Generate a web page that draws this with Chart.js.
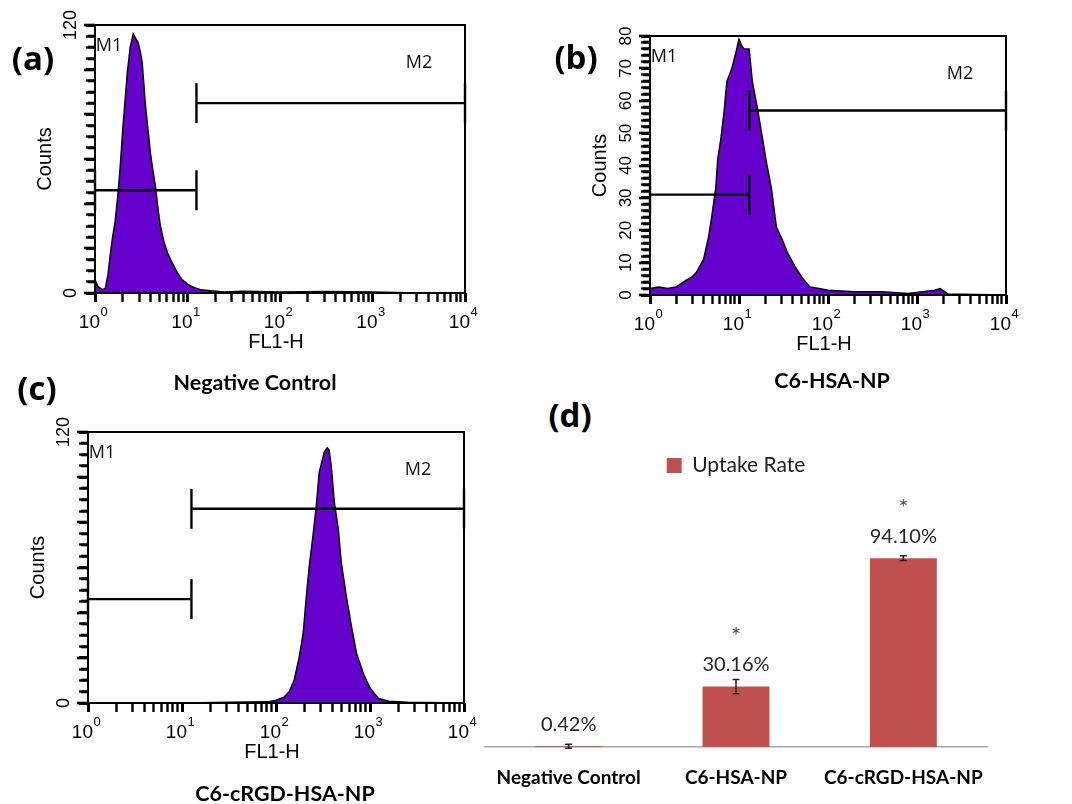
<!DOCTYPE html>
<html>
<head>
<meta charset="utf-8">
<title>Cellular uptake</title>
<script src="https://cdn.jsdelivr.net/npm/chart.js@4.4.1/dist/chart.umd.min.js"></script>
<style>
    html, body { margin: 0; padding: 0; background: #fff; }
    #page { position: relative; width: 1072px; height: 804px; overflow: hidden; }
    canvas { position: absolute; }
    .lbl {
        position: absolute;
        transform: translate(-50%, -50%);
        font-family: Lato, "Open Sans", sans-serif;
        font-weight: bold;
        color: #000;
        white-space: nowrap;
    }
    .tag { font-family: "Open Sans", sans-serif; font-size: 33px; }
    .sub { font-size: 21.5px; }
</style>
</head>
<body>
<div id="page">
    <canvas id="histNeg" width="480" height="370" style="left:0;top:0"></canvas>
    <canvas id="histHsa" width="532" height="370" style="left:540px;top:0"></canvas>
    <canvas id="histRgd" width="480" height="404" style="left:0;top:400px"></canvas>
    <canvas id="uptakeChart" width="602" height="363" style="left:470px;top:445px"></canvas>

    <div class="lbl tag" style="left:33px;top:57px">(a)</div>
    <div class="lbl tag" style="left:576px;top:56px">(b)</div>
    <div class="lbl tag" style="left:37px;top:387px">(c)</div>
    <div class="lbl tag" style="left:570px;top:414px">(d)</div>

    <div class="lbl sub" style="left:255px;top:382px">Negative Control</div>
    <div class="lbl sub" style="left:832px;top:380px">C6-HSA-NP</div>
    <div class="lbl sub" style="left:285px;top:793px">C6-cRGD-HSA-NP</div>
</div>

<script>
// ---- histogram data (FL1-H channel value, counts) ----
const negFL1 = [1.00, 1.07, 1.20, 1.29, 1.38, 1.46, 1.55, 1.65, 1.76, 1.87, 2.01, 2.23, 2.40, 2.59, 2.75,
    2.93, 3.09, 3.24, 3.49, 3.72, 3.96, 4.22, 4.49, 4.79, 5.09, 5.56, 6.07, 6.92, 7.78, 8.71,
    10.0, 11.7, 13.8, 17.8, 25, 40, 100, 316, 1000, 3160, 10000];
const negCounts = [6, 3, 1.5, 2, 8, 17, 25, 32, 43, 56, 75, 98, 110, 116, 114,
    112, 108, 103, 85, 74, 63, 55, 48, 38, 30, 23, 18, 13, 9, 6,
    4, 2.5, 1.5, 1, 0.5, 0.8, 0.5, 0.7, 0.5, 0, 0];

const hsaFL1 = [1.00, 1.26, 1.58, 1.97, 2.24, 2.56, 2.95, 3.33, 4.00, 4.56, 4.93, 5.48, 5.77, 6.24, 6.76,
    7.31, 8.32, 9.25, 10.0, 10.7, 11.4, 13.0, 14.1, 16.0, 18.2, 20.3, 23.1, 26.3, 30.8, 35.1,
    42.2, 50.7, 62.4, 79.4, 100, 200, 398, 794, 1585, 1820, 2239, 10000];
const hsaCounts = [2, 2.5, 2, 2.5, 3.5, 4.6, 5.5, 7, 11, 18, 24, 33, 42, 48, 56,
    66, 70, 75, 79, 77, 76, 76, 66, 58, 49, 41, 33, 21, 17, 13,
    9, 5.5, 2.5, 2, 1.5, 1, 1, 0.5, 1.5, 2, 0.3, 0];

const rgdFL1 = [1, 10, 31.6, 82, 100, 122, 138, 156, 176, 195, 209, 225, 249, 268, 288,
    326, 351, 367, 387, 417, 460, 495, 561, 634, 718, 851, 989, 1122, 1233, 1585, 2512, 10000];
const rgdCounts = [0, 0, 0.3, 0.5, 1.2, 2.6, 5, 10, 20, 31, 46, 60, 75, 87, 102,
    111, 113, 112, 105, 89, 77, 62, 47, 34, 22, 13, 7, 4, 2, 0.8, 0.3, 0];

// marker gates M1 / M2 (FL1-H ranges)
const negGates = [[1, 12.5], [12.5, 10000]];
const hsaGates = [[1, 13], [13, 10000]];
const rgdGates = [[1, 12.6], [12.6, 10000]];

const decades = [1, 10, 100, 1000, 10000];

// ---- uptake rate data ----
const groups = ['Negative Control', 'C6-HSA-NP', 'C6-cRGD-HSA-NP'];
const uptakeRate = [0.42, 30.16, 94.10];
const uptakeErr = [1.0, 3.5, 1.2];
const uptakeSig = ['', '*', '*'];

// log tick positions 1,2..9,10,20..
const logTicks = [];
decades.forEach((d, i) => {
    for (let m = 1; m <= (i < decades.length - 1 ? 9 : 1); m++) logTicks.push(d * m);
});

// draws frame, count ticks, tick labels and M1/M2 markers
const flowPlugin = {
    id: 'flow',
    afterDraw(chart) {
        const o = chart.config.options.flowAxes;
        const ctx = chart.ctx;
        const a = chart.chartArea;
        const x = chart.scales.x;
        const y = chart.scales.y;
        const L = a.left, R = a.right, T = a.top, B = a.bottom;
        ctx.save();
        ctx.strokeStyle = '#000';
        ctx.fillStyle = '#000';

        const line = (x0, y0, x1, y1) => {
            ctx.beginPath();
            ctx.moveTo(x0, y0);
            ctx.lineTo(x1, y1);
            ctx.stroke();
        };

        // markers
        ctx.lineWidth = 2.4;
        o.gates.forEach((g, i) => {
            const x0 = x.getPixelForValue(g[0]);
            const x1 = x.getPixelForValue(g[1]);
            const py = y.getPixelForValue(o.levels[i]);
            line(x0, py, x1, py);
            line(x0, py - 20, x0, py + 20);
            line(x1, py - 20, x1, py + 20);
        });

        // frame
        ctx.lineWidth = 2;
        ctx.strokeRect(L, T, R - L, B - T);

        // count ticks on the left edge
        y.ticks.forEach(t => {
            const py = Math.round(y.getPixelForValue(t.value));
            const len = t.major ? 11 : 7;
            ctx.fillRect(L - len, py - 1.3, len, 2.6);
        });

        // x tick labels 10^n
        decades.forEach((d, i) => {
            const px = x.getPixelForValue(d);
            ctx.font = '19px "Liberation Sans", Arial, sans-serif';
            const w1 = ctx.measureText('10').width;
            ctx.font = '13px "Liberation Sans", Arial, sans-serif';
            const w2 = ctx.measureText(String(i)).width;
            const left = px - 2 - (w1 + w2) / 2;
            ctx.textAlign = 'left';
            ctx.textBaseline = 'middle';
            ctx.font = '19px "Liberation Sans", Arial, sans-serif';
            ctx.fillText('10', left, B + 30);
            ctx.font = '13px "Liberation Sans", Arial, sans-serif';
            ctx.fillText(String(i), left + w1 + 0.5, B + 19);
        });

        // y tick labels, rotated
        ctx.font = o.yFont + 'px "Liberation Sans", Arial, sans-serif';
        ctx.textAlign = 'center';
        ctx.textBaseline = 'middle';
        o.yLabels.forEach(v => {
            ctx.save();
            ctx.translate(L - 24, y.getPixelForValue(v));
            ctx.rotate(-Math.PI / 2);
            ctx.fillText(String(v), 0, 0);
            ctx.restore();
        });

        // axis titles
        ctx.font = '20px "Liberation Sans", Arial, sans-serif';
        ctx.save();
        ctx.translate(L - 50, (T + B) / 2);
        ctx.rotate(-Math.PI / 2);
        ctx.fillText('Counts', 0, 0);
        ctx.restore();
        ctx.fillText('FL1-H', x.getPixelForValue(100) - 4, B + 49);

        // marker names
        ctx.font = '18px "Open Sans", sans-serif';
        ctx.fillStyle = '#111';
        ctx.fillText('M1', L + 14, T + 21);
        ctx.fillText('M2', R - 46, T + 38);
        ctx.restore();
    }
};

function flowChart(id, fl1, counts, gates, o) {
    const countTicks = [];
    for (let k = 0; k * o.yMinor <= o.yMax; k++) countTicks.push(k * o.yMinor);
    return new Chart(document.getElementById(id), {
        type: 'line',
        data: {
            datasets: [{
                data: fl1.map((v, i) => ({ x: v, y: counts[i] })),
                borderColor: '#000',
                borderWidth: 1.5,
                backgroundColor: '#6600cc',
                fill: 'origin',
                pointRadius: 0,
                tension: 0
            }]
        },
        options: {
            responsive: false,
            animation: false,
            layout: { padding: o.padding },
            scales: {
                x: {
                    type: 'logarithmic',
                    min: 1,
                    max: 10000,
                    afterBuildTicks: axis => {
                        axis.ticks = logTicks.map(v => ({ value: v, major: decades.includes(v) }));
                    },
                    grid: {
                        drawOnChartArea: false,
                        tickLength: 9,
                        tickColor: '#000',
                        tickWidth: c => (c.tick && c.tick.major ? 3 : 2.4)
                    },
                    border: { display: false },
                    ticks: { display: false, autoSkip: false }
                },
                y: {
                    position: 'left',
                    min: 0,
                    max: o.yMax,
                    afterBuildTicks: axis => {
                        axis.ticks = countTicks.map(v => ({ value: v, major: v % o.yMajor === 0 }));
                    },
                    grid: {
                        drawOnChartArea: false,
                        tickLength: 9,
                        tickColor: '#000',
                        tickWidth: c => (c.tick && c.tick.major ? 3 : 2.4)
                    },
                    border: { display: false },
                    ticks: { display: false, autoSkip: false }
                }
            },
            plugins: {
                legend: { display: false },
                tooltip: { enabled: false }
            },
            flowAxes: {
                gates: gates,
                levels: o.levels,
                yLabels: o.yLabels,
                yFont: o.yFont
            }
        },
        plugins: [flowPlugin]
    });
}

flowChart('histNeg', negFL1, negCounts, negGates, {
    padding: { left: 86, right: 15, top: 25, bottom: 68 },
    yMax: 120, yMinor: 5, yMajor: 20, yLabels: [0, 120], yFont: 18, levels: [46, 85]
});
flowChart('histHsa', hsaFL1, hsaCounts, hsaGates, {
    padding: { left: 101, right: 66, top: 36, bottom: 66 },
    yMax: 80, yMinor: 2, yMajor: 10, yLabels: [0, 10, 20, 30, 40, 50, 60, 70, 80], yFont: 17, levels: [31, 57]
});
flowChart('histRgd', rgdFL1, rgdCounts, rgdGates, {
    padding: { left: 79, right: 16, top: 32, bottom: 92 },
    yMax: 120, yMinor: 5, yMajor: 20, yLabels: [0, 120], yFont: 18, levels: [46, 86]
});

// error bars, value labels and significance stars
const uptakePlugin = {
    id: 'uptakeLabels',
    afterDatasetsDraw(chart) {
        const { ctx, scales: { y } } = chart;
        const meta = chart.getDatasetMeta(0);
        ctx.save();
        meta.data.forEach((bar, i) => {
            const cx = bar.x;
            const hi = y.getPixelForValue(uptakeRate[i] + uptakeErr[i]);
            const lo = y.getPixelForValue(uptakeRate[i] - uptakeErr[i]);
            ctx.strokeStyle = '#222';
            ctx.lineWidth = 1.5;
            ctx.beginPath();
            ctx.moveTo(cx, hi); ctx.lineTo(cx, lo);
            ctx.moveTo(cx - 3.5, hi); ctx.lineTo(cx + 3.5, hi);
            ctx.moveTo(cx - 3.5, lo); ctx.lineTo(cx + 3.5, lo);
            ctx.stroke();

            const top = y.getPixelForValue(uptakeRate[i]);
            ctx.textAlign = 'center';
            ctx.textBaseline = 'middle';
            ctx.fillStyle = '#262626';
            ctx.font = '20px Lato, "Open Sans", sans-serif';
            ctx.fillText(uptakeRate[i].toFixed(2) + '%', cx, top - 22);
            if (uptakeSig[i]) {
                ctx.fillStyle = '#555';
                ctx.font = '24px Lato, "Open Sans", sans-serif';
                ctx.fillText(uptakeSig[i], cx, top - 50);
            }
        });
        ctx.restore();
    }
};

new Chart(document.getElementById('uptakeChart'), {
    type: 'bar',
    data: {
        labels: groups,
        datasets: [{
            label: 'Uptake Rate',
            data: uptakeRate,
            backgroundColor: '#c0504d',
            borderColor: '#c0504d',
            borderWidth: 0,
            barPercentage: 0.4,
            categoryPercentage: 1
        }]
    },
    options: {
        responsive: false,
        animation: false,
        layout: { padding: { left: 15, right: 85, top: 0, bottom: 0 } },
        scales: {
            x: {
                grid: { display: false, drawTicks: false },
                border: { color: '#a6a6a6', width: 1.5 },
                ticks: { padding: 19, color: '#000', font: { family: 'Lato', size: 19, weight: 'bold' } }
            },
            y: { display: false, min: 0, max: 130 }
        },
        plugins: {
            legend: {
                labels: {
                    boxWidth: 15,
                    boxHeight: 15,
                    padding: 10,
                    color: '#222',
                    font: { family: 'Lato', size: 21 }
                }
            },
            tooltip: { enabled: false }
        }
    },
    plugins: [uptakePlugin]
});
</script>
</body>
</html>
